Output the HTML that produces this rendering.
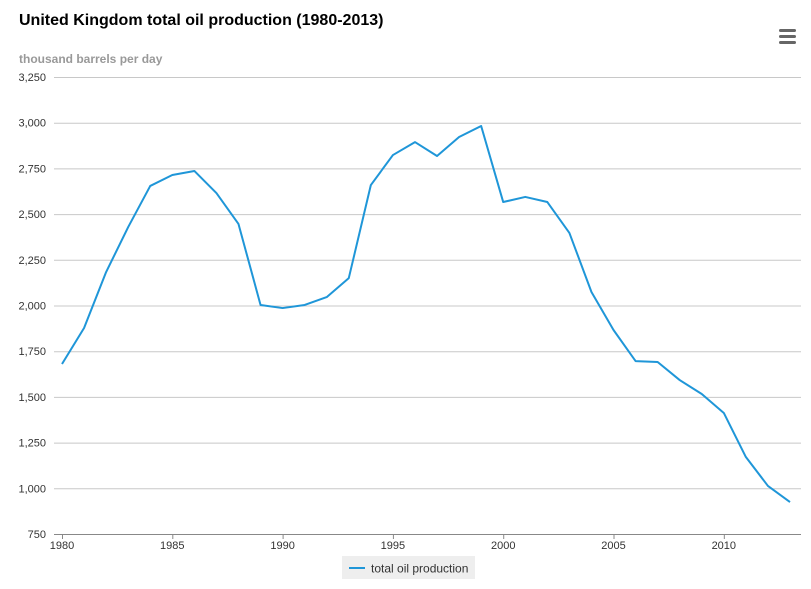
<!DOCTYPE html>
<html><head><meta charset="utf-8"><style>
body{margin:0;background:#fff;font-family:"Liberation Sans",Arial,sans-serif;}
svg text{font-family:"Liberation Sans",Arial,sans-serif;}
</style></head><body>
<svg id="chart" width="811" height="584" viewBox="0 0 811 584">
<text x="19" y="25" font-size="16" font-weight="bold" fill="#000">United Kingdom total oil production (1980-2013)</text>
<g>
<rect x="779" y="29" width="17" height="3" rx="1.5" fill="#666"/><rect x="779" y="35" width="17" height="3" rx="1.5" fill="#666"/><rect x="779" y="41" width="17" height="3" rx="1.5" fill="#666"/>
</g>
<text x="19" y="63" font-size="12" font-weight="bold" fill="#999">thousand barrels per day</text>
<g id="grid"></g><g id="yticks"></g><g id="xticks"></g><g id="series"></g>
<g>
<rect x="342" y="556" width="133" height="23" fill="#eeeeee"/>
<line x1="349" y1="568" x2="365" y2="568" stroke="#1f96d8" stroke-width="2"/>
<text x="371" y="572.5" font-size="12" fill="#333">total oil production</text>
</g>
</svg>
<script>
const years=[1980,1981,1982,1983,1984,1985,1986,1987,1988,1989,1990,1991,1992,1993,1994,1995,1996,1997,1998,1999,2000,2001,2002,2003,2004,2005,2006,2007,2008,2009,2010,2011,2012,2013];
const production=[1680,1877,2183,2429,2654,2714,2736,2615,2446,2003,1986,2003,2046,2150,2659,2823,2894,2818,2922,2982,2566,2594,2566,2397,2074,1866,1696,1691,1592,1516,1412,1171,1013,925];
const yTicks=[750,1000,1250,1500,1750,2000,2250,2500,2750,3000,3250];
const xTicks=[1980,1985,1990,1995,2000,2005,2010];
const NS="http://www.w3.org/2000/svg";
function yS(v){return 534-(v-750)*(457/2500);}
function xS(yr){return 62+(yr-1980)*(728/33);}
function mk(t,a,p){const e=document.createElementNS(NS,t);for(const k in a)e.setAttribute(k,a[k]);p.appendChild(e);return e;}
const grid=document.getElementById('grid'),yt=document.getElementById('yticks'),xt=document.getElementById('xticks'),se=document.getElementById('series');
yTicks.forEach(v=>{
 const l=mk('line',{x1:54,x2:801,y1:yS(v)+0.5,y2:yS(v)+0.5,stroke:v===750?'#888':'#c8c8c8','stroke-width':1},grid);
 
 
 const t=mk('text',{x:46,y:yS(v)+4,'font-size':11,'text-anchor':'end',fill:'#333'},yt);
 t.textContent=v.toLocaleString('en-US');
 
 
});
xTicks.forEach(v=>{
 const l=mk('line',{x1:xS(v)+0.5,x2:xS(v)+0.5,y1:534,y2:539,stroke:'#888'},xt);
 
 
 const t=mk('text',{x:xS(v),y:549,'font-size':11,'text-anchor':'middle',fill:'#333'},xt);
 t.textContent=v;
 
 
});
const pts=years.map((y,i)=>xS(y)+','+yS(production[i])).join(' ');
const pl=mk('polyline',{points:pts,fill:'none',stroke:'#1f96d8','stroke-width':2,'stroke-linejoin':'round'},se);


</script>
</body></html>
